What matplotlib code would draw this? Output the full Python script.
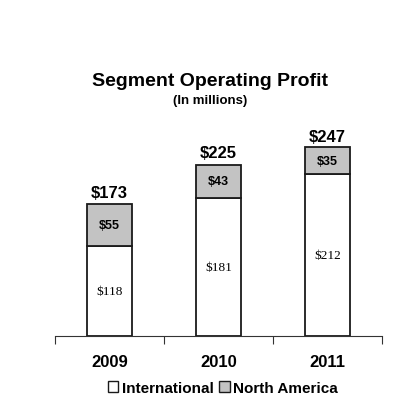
import matplotlib.pyplot as plt
from matplotlib.patches import Patch

years = ["2009", "2010", "2011"]
international = [118, 181, 212]
north_america = [55, 43, 35]
totals = [173, 225, 247]

plt.rcParams["font.family"] = ["Liberation Sans", "DejaVu Sans"]

fig = plt.figure(figsize=(3.98, 4.06), dpi=100)
ax = fig.add_axes([0.138, 0.170, 0.822, 0.564])

x = list(range(len(years)))
ax.bar(x, international, width=0.41, color="white", edgecolor="#1a1a1a", linewidth=1.3)
ax.bar(x, north_america, width=0.41, bottom=international, color="#c3c3c3",
       edgecolor="#1a1a1a", linewidth=1.3)

for i in x:
    ax.text(i, international[i] / 2, f"${international[i]}", ha="center", va="center",
            fontsize=9.5, family=["Liberation Serif"])
    ax.text(i, international[i] + north_america[i] / 2, f"${north_america[i]}",
            ha="center", va="center", fontsize=9, fontweight="bold")
    ax.text(i, totals[i] + 5, f"${totals[i]}", ha="center", va="bottom",
            fontsize=12, fontweight="bold")

ax.set_xlim(-0.5, 2.5)
ax.set_ylim(0, 300)
ax.set_xticks([-0.5, 0.5, 1.5, 2.5])
ax.set_xticklabels([])
ax.set_xticks(x, minor=True)
ax.set_xticklabels(years, minor=True, fontsize=12, fontweight="bold")
ax.tick_params(axis="x", which="major", direction="out", length=6, color="#333333")
ax.tick_params(axis="x", which="minor", length=0, pad=13)
ax.set_yticks([])
for side in ["left", "right", "top"]:
    ax.spines[side].set_visible(False)
ax.spines["bottom"].set_color("#333333")

fig.text(0.528, 0.80, "Segment Operating Profit", ha="center", va="center",
         fontsize=14, fontweight="bold")
fig.text(0.528, 0.751, "(In millions)", ha="center", va="center",
         fontsize=9.5, fontweight="bold")

handles = [Patch(facecolor="white", edgecolor="#1a1a1a", label="International"),
           Patch(facecolor="#c3c3c3", edgecolor="#1a1a1a", label="North America")]
fig.legend(handles=handles, loc="center", bbox_to_anchor=(0.56, 0.042), ncol=2,
           frameon=False, handlelength=0.7, handleheight=0.7, handletextpad=0.2,
           columnspacing=0.4, prop={"weight": "bold", "size": 11})

fig.savefig("out.png", dpi=100)
